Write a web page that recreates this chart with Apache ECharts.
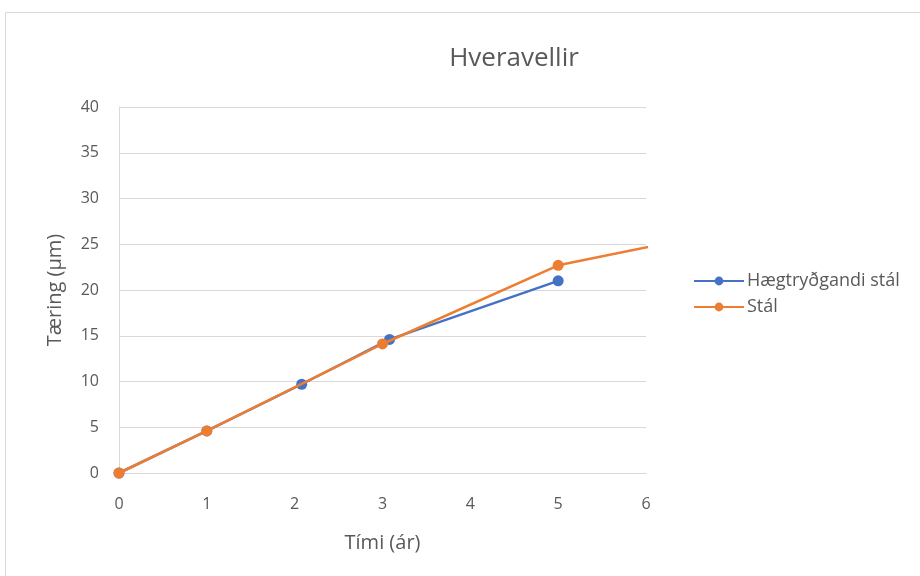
<!DOCTYPE html>
<html><head><meta charset="utf-8">
<script src="https://cdn.jsdelivr.net/npm/echarts@6/dist/echarts.min.js"></script>
<style>html,body{margin:0;padding:0;background:#fff}#c{width:920px;height:576px}</style>
</head><body><div id="c"></div>
<script>
const title = "Hveravellir";
const xName = "Tími (ár)";
const yName = "Tæring (µm)";
const seriesNames = ["Hægtryðgandi stál", "Stál"];
const blueX = [0, 1, 2.08, 3.08, 5];
const blueY = [0, 4.6, 9.7, 14.6, 21.0];
const orangeX = [0, 1, 3, 5, 7];
const orangeY = [0, 4.6, 14.1, 22.7, 26.6];
const xTicks = [0, 1, 2, 3, 4, 5, 6];
const yTicks = [0, 5, 10, 15, 20, 25, 30, 35, 40];

const pair = (xs, ys) => xs.map((x, i) => [x, ys[i]]);
const font = "'Open Sans', 'Noto Sans', sans-serif";
const grey = '#595959';

const chart = echarts.init(document.getElementById('c'), null, {renderer: 'canvas'});
chart.setOption({
  animation: false,
  backgroundColor: '#fff',
  textStyle: {fontFamily: font},
  graphic: [{type: 'rect', shape: {x: 5.5, y: 12.5, width: 930, height: 580},
    style: {fill: 'none', stroke: '#d9d9d9', lineWidth: 1}, silent: true}],
  title: {text: title, left: 509, top: 41, textAlign: 'center',
    textStyle: {fontFamily: font, fontSize: 26, fontWeight: 'normal', color: grey}},
  legend: {orient: 'vertical', left: 688, top: 267, itemGap: 8, itemWidth: 50, itemHeight: 11,
    textStyle: {fontFamily: font, fontSize: 18, color: grey, padding: [0, 0, 0, -2]},
    data: seriesNames},
  grid: {left: 119, right: 274, top: 107, bottom: 103},
  xAxis: {type: 'value', min: xTicks[0], max: xTicks[xTicks.length - 1], interval: 1,
    name: xName, nameLocation: 'middle', nameGap: 60,
    nameTextStyle: {fontFamily: font, fontSize: 20, color: grey},
    axisLine: {show: true, lineStyle: {color: '#d9d9d9'}},
    axisTick: {show: false}, splitLine: {show: false},
    axisLabel: {color: grey, fontSize: 16, margin: 23, fontFamily: font}},
  yAxis: {type: 'value', min: yTicks[0], max: yTicks[yTicks.length - 1], interval: 5,
    name: yName, nameLocation: 'middle', nameGap: 54,
    nameTextStyle: {fontFamily: font, fontSize: 20, color: grey},
    axisLine: {show: true, lineStyle: {color: '#d9d9d9'}},
    axisTick: {show: false},
    splitLine: {show: true, lineStyle: {color: '#d9d9d9'}},
    axisLabel: {color: grey, fontSize: 16, margin: 20, fontFamily: font}},
  series: [
    {name: seriesNames[0], type: 'line', data: pair(blueX, blueY), symbol: 'circle', symbolSize: 11,
      z: 2, clip: true, itemStyle: {color: '#4472C4'}, lineStyle: {width: 2.5, color: '#4472C4'}},
    {name: seriesNames[1], type: 'line', data: pair(orangeX, orangeY), symbol: 'circle', symbolSize: 11,
      z: 3, clip: true, itemStyle: {color: '#ED7D31'}, lineStyle: {width: 2.5, color: '#ED7D31'}}
  ]
});
</script></body></html>
